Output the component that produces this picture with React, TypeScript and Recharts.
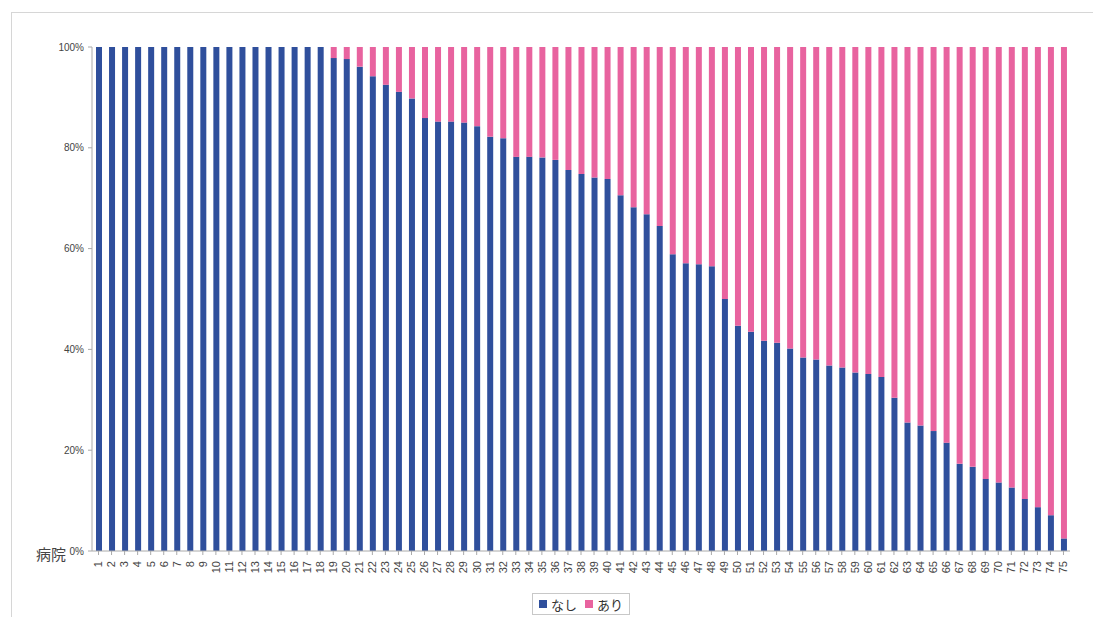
import React from "react";
import { BarChart, Bar, XAxis, YAxis } from "recharts";

// hospitals 1..75
const hospitals = Array.from({ length: 75 }, (_, i) => String(i + 1));

// share of "なし" (%) per hospital
const nashi = [
  100, 100, 100, 100, 100, 100, 100, 100, 100, 100,
  100, 100, 100, 100, 100, 100, 100, 100, 97.8, 97.6,
  96.1, 94.2, 92.5, 91.1, 89.8, 85.9, 85.2, 85.2, 85.0, 84.3,
  82.2, 81.9, 78.2, 78.2, 78.1, 77.6, 75.6, 74.8, 74.1, 73.8,
  70.6, 68.2, 66.8, 64.5, 58.9, 57.1, 56.9, 56.5, 50.0, 44.7,
  43.5, 41.7, 41.3, 40.2, 38.4, 38.0, 36.8, 36.4, 35.4, 35.1,
  34.5, 30.4, 25.5, 24.9, 23.8, 21.5, 17.3, 16.7, 14.3, 13.6,
  12.6, 10.3, 8.7, 7.1, 2.5,
];

// share of "あり" (%) per hospital
const ari = [
  0, 0, 0, 0, 0, 0, 0, 0, 0, 0,
  0, 0, 0, 0, 0, 0, 0, 0, 2.2, 2.4,
  3.9, 5.8, 7.5, 8.9, 10.2, 14.1, 14.8, 14.8, 15.0, 15.7,
  17.8, 18.1, 21.8, 21.8, 21.9, 22.4, 24.4, 25.2, 25.9, 26.2,
  29.4, 31.8, 33.2, 35.5, 41.1, 42.9, 43.1, 43.5, 50.0, 55.3,
  56.5, 58.3, 58.7, 59.8, 61.6, 62.0, 63.2, 63.6, 64.6, 64.9,
  65.5, 69.6, 74.5, 75.1, 76.2, 78.5, 82.7, 83.3, 85.7, 86.4,
  87.4, 89.7, 91.3, 92.9, 97.5,
];

const yTicks = [0, 20, 40, 60, 80, 100];

const BLUE = "#2f4f9c";
const PINK = "#e8639f";

const data = hospitals.map((h, i) => ({ name: h, nashi: nashi[i], ari: ari[i] }));

const XTick = (props: any) => {
  const { x, y, payload } = props;
  return (
    <text
      transform={`translate(${x},${y}) rotate(-90)`}
      x={-4}
      y={0}
      dy="0.35em"
      textAnchor="end"
      fontSize={11}
      fill="#444"
      fontFamily="Liberation Sans, Arial, sans-serif"
    >
      {payload.value}
    </text>
  );
};

const App = () => {
  return (
    <div style={{ position: "absolute", left: 0, top: 0, width: 1093, height: 617, background: "#fff", overflow: "hidden" }}>
      {/* chart frame */}
      <div
        style={{
          position: "absolute",
          left: 11,
          top: 12,
          width: 1100,
          height: 700,
          border: "1px solid #d6d6d6",
          boxSizing: "border-box",
        }}
      />
      <BarChart
        width={1093}
        height={617}
        data={data}
        barSize={6}
        margin={{ top: 47, right: 23, bottom: 26, left: 0 }}
        style={{ position: "absolute", left: 0, top: 0 }}
      >
        <XAxis
          dataKey="name"
          interval={0}
          height={40}
          tick={<XTick />}
          tickLine={{ stroke: "#aaa" }}
          tickSize={4}
          axisLine={{ stroke: "#aaa" }}
        />
        <YAxis
          width={92}
          domain={[0, 100]}
          ticks={yTicks}
          tickFormatter={(v: number) => `${v}%`}
          tick={{ fontSize: 10, fill: "#444", dx: 2, fontFamily: "Liberation Sans, Arial, sans-serif" }}
          tickLine={{ stroke: "#aaa" }}
          tickSize={4}
          tickMargin={6}
          axisLine={{ stroke: "#aaa" }}
        />
        <Bar dataKey="nashi" name="なし" stackId="a" fill={BLUE} isAnimationActive={false} />
        <Bar dataKey="ari" name="あり" stackId="a" fill={PINK} isAnimationActive={false} />
      </BarChart>
      <div
        style={{
          position: "absolute",
          left: 36,
          top: 543,
          fontSize: 15,
          color: "#444",
          fontFamily: "Noto Sans CJK JP, sans-serif",
        }}
      >
        病院
      </div>
      {/* legend */}
      <div
        style={{
          position: "absolute",
          left: 532,
          top: 593,
          height: 20,
          padding: "0 6px",
          border: "1px solid #c8c8c8",
          display: "flex",
          alignItems: "center",
          gap: 4,
          fontSize: 13,
          color: "#333",
          fontFamily: "Noto Sans CJK JP, sans-serif",
          background: "#fff",
        }}
      >
        <span style={{ display: "inline-block", width: 8, height: 8, background: BLUE }} />
        <span>なし</span>
        <span style={{ display: "inline-block", width: 8, height: 8, background: PINK, marginLeft: 4 }} />
        <span>あり</span>
      </div>
    </div>
  );
};

export default App;
